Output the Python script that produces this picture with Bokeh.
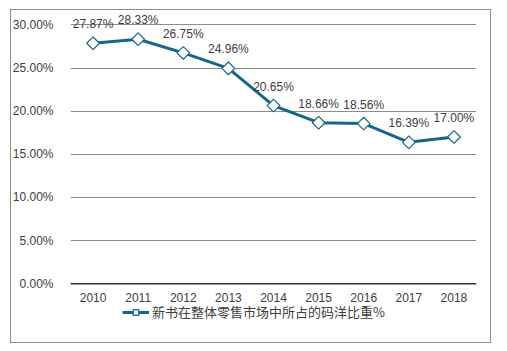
import math
from bokeh.plotting import figure
from bokeh.models import (FixedTicker, PrintfTickFormatter, ColumnDataSource, LabelSet,
                          Legend, LegendItem, InlineStyleSheet, Span)
from bokeh.core.properties import value
from bokeh.embed import file_html
from bokeh.resources import INLINE

years = ["2010", "2011", "2012", "2013", "2014", "2015", "2016", "2017", "2018"]
share = [27.87, 28.33, 26.75, 24.96, 20.65, 18.66, 18.56, 16.39, 17.00]
labels = [f"{v:.2f}%" for v in share]
y_ticks = [0, 5, 10, 15, 20, 25, 30]
series_name = "新书在整体零售市场中所占的码洋比重%"

LINE = "#14678A"
TXT = "#404040"
FONT = "Liberation Sans"

src = ColumnDataSource(dict(x=years, y=share, label=labels))
xsrc = ColumnDataSource(dict(x=years, y=[0] * len(years), label=years))

# frame extends below the zero line (category labels, legend) and a bit above 30%
p = figure(width=507, height=351, x_range=years, y_range=(-6, 31.55),
           output_backend="svg", toolbar_location=None,
           min_border_left=70, min_border_right=31, min_border_top=11, min_border_bottom=16)
p.stylesheets = [InlineStyleSheet(css=(
    ":host::after { content: ''; position: absolute; left: 10px; top: 9px; "
    "width: 479px; height: 332px; border: 1px solid #8C8C8C; pointer-events: none; }"))]
p.x_range.range_padding = 0
p.outline_line_color = None
p.background_fill_color = "white"
p.border_fill_color = "white"

# grid
p.xgrid.grid_line_color = None
p.ygrid.grid_line_color = "#8C8C8C"
p.ygrid.grid_line_width = 1
p.ygrid.ticker = FixedTicker(ticks=y_ticks)

# y axis
p.yaxis.ticker = FixedTicker(ticks=y_ticks)
p.yaxis.formatter = PrintfTickFormatter(format="%.2f%%")
p.yaxis.axis_line_color = None
p.yaxis.major_tick_line_color = None
p.yaxis.minor_tick_line_color = None
p.yaxis.major_label_standoff = 11
p.yaxis.major_label_text_font = FONT
p.yaxis.major_label_text_font_size = "12px"
p.yaxis.major_label_text_color = TXT

# x axis drawn as a zero line with category labels
p.xaxis.visible = False
p.add_layout(Span(location=0, dimension="width", line_color="#333333", line_width=1.5))
xlbl = LabelSet(x="x", y="y", text="label", source=xsrc, y_offset=-13.5,
                text_align="center", text_baseline="middle",
                text_font=value(FONT), text_font_size=value("12px"), text_color=TXT)
p.add_layout(xlbl)

ln = p.line("x", "y", source=src, line_color=LINE, line_width=3)
mk = p.scatter("x", "y", source=src, marker="square", angle=math.pi / 4, size=9,
               fill_color="white", line_color=LINE, line_width=1.2)

lbl = LabelSet(x="x", y="y", text="label", source=src, y_offset=19,
               text_align="center", text_baseline="middle",
               text_font=value(FONT), text_font_size=value("12px"), text_color=TXT)
p.add_layout(lbl)

legend = Legend(items=[LegendItem(label=series_name, renderers=[ln, mk])],
                location=(52, 14), orientation="horizontal",
                border_line_color=None, background_fill_alpha=0,
                padding=0, margin=0, glyph_width=27, glyph_height=14,
                label_standoff=3, label_text_font="Noto Sans CJK SC",
                label_text_font_size="13px", label_text_color=TXT)
p.add_layout(legend, "center")

open("out.html", "w").write(file_html(p, INLINE))
